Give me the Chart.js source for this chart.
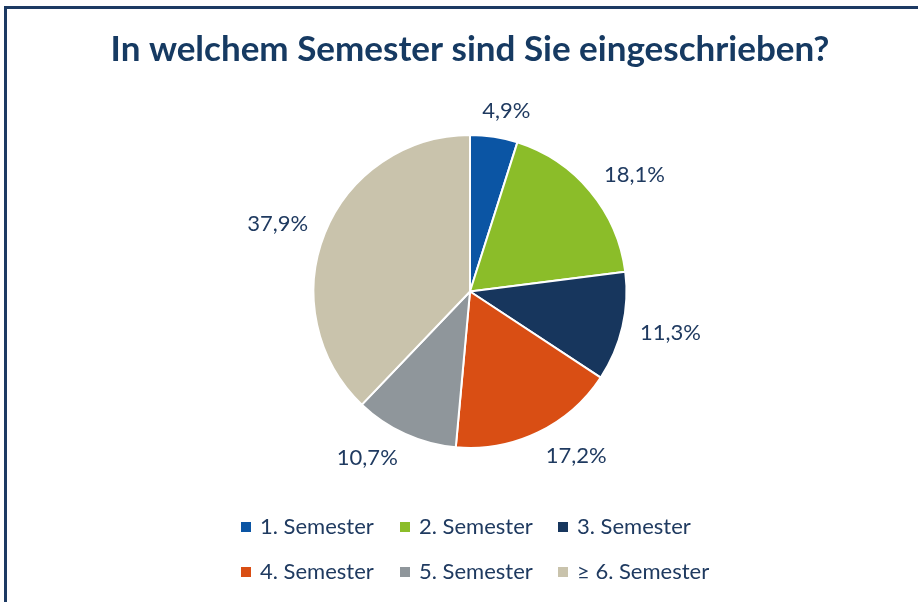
<!DOCTYPE html>
<html>
<head>
<meta charset="utf-8">
<script src="https://cdn.jsdelivr.net/npm/chart.js@4.4.1/dist/chart.umd.min.js"></script>
<style>
    body { margin: 0; overflow: hidden; background: #fff; }
    #frame {
        position: absolute; left: 4px; top: 6px;
        width: 1000px; height: 700px;
        border: 3px solid #1d3a63;
    }
    #wrap { position: absolute; left: 0; top: 0; width: 918px; height: 602px; }
</style>
</head>
<body>
<div id="frame"></div>
<div id="wrap"><canvas id="chart" width="918" height="602"></canvas></div>
<script>
// Semester distribution (percent)
const semesterLabels = ['1. Semester', '2. Semester', '3. Semester', '4. Semester', '5. Semester', '≥ 6. Semester'];
const semesterShares = [4.9, 18.1, 11.3, 17.2, 10.7, 37.9];
const sliceColors = ['#0b55a4', '#8bbd29', '#17365d', '#d94e14', '#8f969b', '#c9c3ac'];

const textColor = '#1f3a60';
const fontFamily = 'Lato, "Open Sans", sans-serif';

// percent labels outside the slices
const outsideLabels = {
    id: 'outsideLabels',
    afterDatasetsDraw(chart) {
        const ctx = chart.ctx;
        const meta = chart.getDatasetMeta(0);
        ctx.save();
        ctx.font = '22px ' + fontFamily;
        ctx.fillStyle = textColor;
        ctx.textAlign = 'center';
        ctx.textBaseline = 'middle';
        meta.data.forEach((arc, i) => {
            const p = arc.getProps(['x', 'y', 'startAngle', 'endAngle', 'outerRadius'], true);
            const mid = (p.startAngle + p.endAngle) / 2;
            const txt = semesterShares[i].toFixed(1).replace('.', ',') + '%';
            const hw = ctx.measureText(txt).width / 2;
            const r = p.outerRadius + 18;
            const c = Math.cos(mid), s = Math.sin(mid);
            const x = p.x + c * r + Math.sign(c) * hw * Math.min(1, 2.6 * Math.abs(c));
            const y = p.y + s * (r + 8);
            ctx.fillText(txt, x, y);
        });
        ctx.restore();
    }
};

// legend in a 3-column grid under the pie
const gridLegend = {
    id: 'gridLegend',
    afterDraw(chart) {
        const ctx = chart.ctx;
        const cols = [241, 400, 558];
        const rows = [527, 572];
        ctx.save();
        ctx.font = '22px ' + fontFamily;
        ctx.textBaseline = 'middle';
        ctx.textAlign = 'left';
        semesterLabels.forEach((label, i) => {
            const x = cols[i % 3];
            const y = rows[Math.floor(i / 3)];
            ctx.fillStyle = sliceColors[i];
            ctx.fillRect(x, y - 5, 10, 10);
            ctx.fillStyle = textColor;
            ctx.fillText(label, x + 19, y);
        });
        ctx.restore();
    }
};

new Chart(document.getElementById('chart'), {
    type: 'pie',
    data: {
        labels: semesterLabels,
        datasets: [{
            data: semesterShares,
            backgroundColor: sliceColors,
            borderColor: '#ffffff',
            borderWidth: 2
        }]
    },
    options: {
        responsive: false,
        animation: false,
        layout: { padding: { left: 22, right: 0, top: 0, bottom: 153 } },
        plugins: {
            legend: { display: false },
            tooltip: { enabled: false },
            title: {
                display: true,
                text: 'In welchem Semester sind Sie eingeschrieben?',
                color: '#163a62',
                font: { family: fontFamily, size: 35, weight: 'bold' },
                padding: { top: 29, bottom: 63 }
            }
        }
    },
    plugins: [outsideLabels, gridLegend]
});
</script>
</body>
</html>
